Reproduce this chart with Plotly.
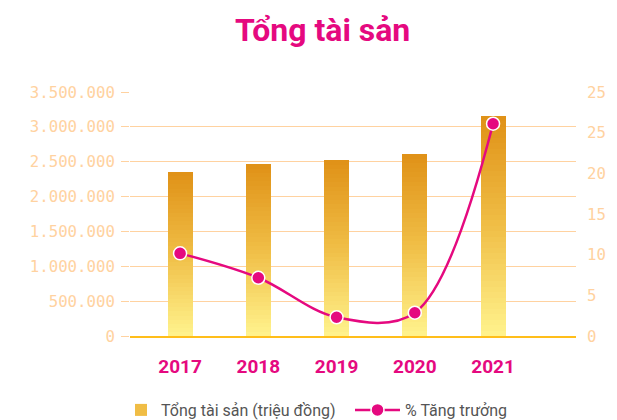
import plotly.graph_objects as go

years = ["2017", "2018", "2019", "2020", "2021"]
total_assets = [2350000, 2464000, 2520000, 2607000, 3156000]
growth_pct = [10.16, 7.16, 2.3, 2.86, 26.1]
left_tickvals = [0, 500000, 1000000, 1500000, 2000000, 2500000, 3000000, 3500000]
left_ticktext = ["0", "500.000", "1.000.000", "1.500.000", "2.000.000", "2.500.000", "3.000.000", "3.500.000"]
right_tickvals = [0, 5, 10, 15, 20]
right_ticktext = ["0", "5", "10", "15", "20"]
right_25_tickval = [25]
right_25_ticktext = ["25"]
right_top_tickval = [30]
right_top_ticktext = ["25"]

MAGENTA = "#E5097F"
PEACH = "#FFD2A0"

def lerp(c1, c2, t):
    return "rgb(%d,%d,%d)" % tuple(round(a + (b - a) * t) for a, b in zip(c1, c2))

top_c = (224, 146, 24)
mid_c = (240, 190, 70)
bot_c = (255, 242, 140)

N = 40
fig = go.Figure()
xs = list(range(len(years)))
for k in range(N):
    t = k / (N - 1)
    if t < 0.5:
        col = lerp(bot_c, mid_c, t / 0.5)
    else:
        col = lerp(mid_c, top_c, (t - 0.5) / 0.5)
    fig.add_trace(go.Bar(
        x=xs, y=[v / N for v in total_assets], width=0.32,
        marker=dict(color=col, line=dict(width=0)),
        name="Tổng tài sản (triệu đồng)",
        showlegend=(k == N // 2), legendgroup="bar", legend="legend",
        hoverinfo="skip", yaxis="y",
    ))

fig.add_trace(go.Scatter(
    x=xs, y=growth_pct, yaxis="y2", name="% Tăng trưởng", legend="legend2",
    mode="lines+markers",
    line=dict(color=MAGENTA, width=2.5, shape="spline", smoothing=1),
    marker=dict(size=13, color=MAGENTA, line=dict(color="white", width=1.5)),
))

right_font = dict(family="DejaVu Sans Mono", size=15.7, color=PEACH)

def right_axis(vals, texts):
    return dict(range=[0, 30], tickmode="array", tickvals=vals, ticktext=texts,
                automargin=False, overlaying="y", side="right", showgrid=False, zeroline=False,
                tickfont=right_font, ticks="", ticklabelstandoff=10)

fig.update_layout(
    width=617, height=420,
    margin=dict(l=130, r=41, t=92, b=84, autoexpand=False),
    paper_bgcolor="white", plot_bgcolor="white",
    barmode="stack", bargap=0,
    title=dict(text="<b>Tổng tài sản</b>", x=0.523, xanchor="center", y=0.928, yanchor="middle",
               font=dict(family="Roboto", size=32, color=MAGENTA)),
    xaxis=dict(range=[-0.64, 5.06], tickvals=xs, ticktext=years, automargin=False,
               tickfont=dict(family="Roboto", size=19, color=MAGENTA, weight="bold"),
               showgrid=False, zeroline=False, showline=True, linecolor="#FFBE1A", linewidth=2,
               ticks="", ticklabelstandoff=12),
    yaxis=dict(range=[0, 3500000], tickvals=left_tickvals, ticktext=left_ticktext, automargin=False,
               tickfont=dict(family="DejaVu Sans Mono", size=15.7, color=PEACH),
               showgrid=True, gridcolor=PEACH, gridwidth=1, zeroline=False,
               ticks="outside", ticklen=8, tickcolor=PEACH, ticklabelstandoff=3),
    yaxis2=right_axis(right_tickvals, right_ticktext),
    yaxis3=right_axis(right_25_tickval, right_25_ticktext),
    yaxis4=right_axis(right_top_tickval, right_top_ticktext),
    legend=dict(orientation="h", x=121 / 617, xref="container", xanchor="left",
                y=10 / 420, yref="container", yanchor="middle",
                font=dict(family="Roboto", size=16, color="#555555"), itemwidth=30),
    legend2=dict(orientation="h", x=350 / 617, xref="container", xanchor="left",
                 y=10 / 420, yref="container", yanchor="middle",
                 font=dict(family="Roboto", size=16, color="#555555"), itemwidth=45),
    showlegend=True,
)

# invisible traces so that the label-only right axes are drawn
fig.add_trace(go.Scatter(x=[None], y=[None], yaxis="y3", showlegend=False, hoverinfo="skip"))
fig.add_trace(go.Scatter(x=[None], y=[None], yaxis="y4", showlegend=False, hoverinfo="skip"))

fig.write_html("out.html", post_script="document.body.style.margin='0';",
               config={"displayModeBar": False})
